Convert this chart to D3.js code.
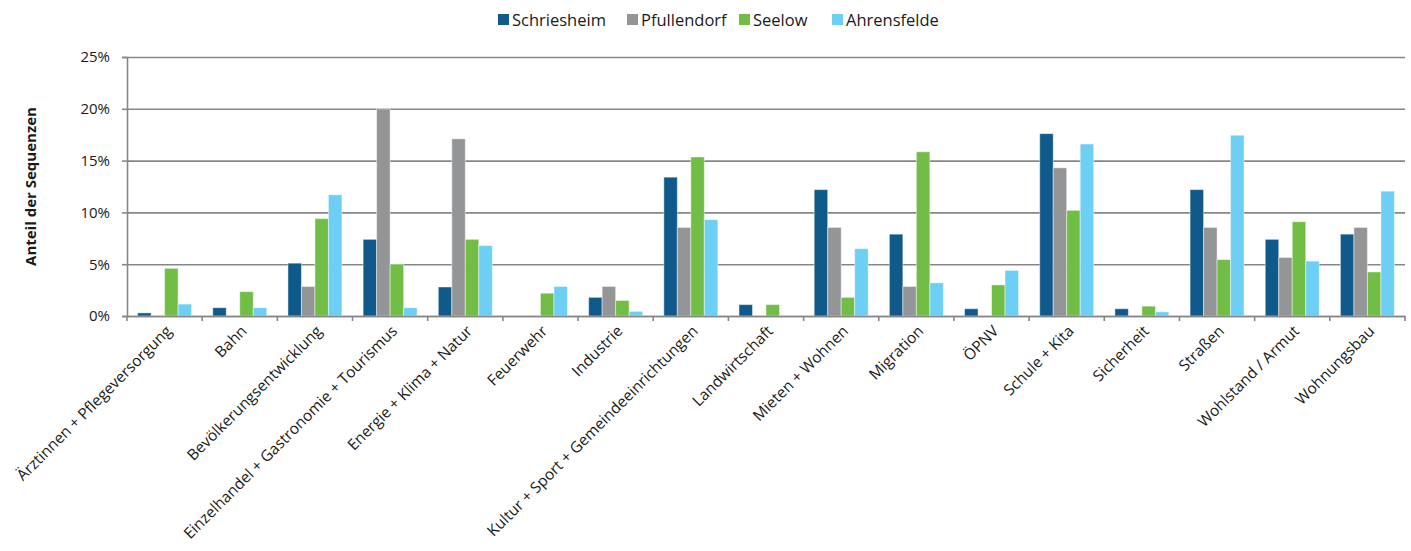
<!DOCTYPE html>
<html>
<head>
<meta charset="utf-8">
<script src="https://cdn.jsdelivr.net/npm/d3@7"></script>
<style>
  body { margin: 0; background: #fff; }
  svg { font-family: "Open Sans", Lato, sans-serif; }
</style>
</head>
<body>
<script>
// Werte in Prozent
const categories = [
  'Ärztinnen + Pflegeversorgung', 'Bahn', 'Bevölkerungsentwicklung',
  'Einzelhandel + Gastronomie + Tourismus', 'Energie + Klima + Natur',
  'Feuerwehr', 'Industrie', 'Kultur + Sport + Gemeindeeinrichtungen',
  'Landwirtschaft', 'Mieten + Wohnen', 'Migration', 'ÖPNV', 'Schule + Kita',
  'Sicherheit', 'Straßen', 'Wohlstand / Armut', 'Wohnungsbau'
];
const seriesNames = ['Schriesheim', 'Pfullendorf', 'Seelow', 'Ahrensfelde'];
const schriesheim = [0.3, 0.8, 5.1, 7.4, 2.8, 0, 1.8, 13.4, 1.1, 12.2, 7.9, 0.7, 17.6, 0.7, 12.2, 7.4, 7.9];
const pfullendorf = [0, 0, 2.85, 20.0, 17.1, 0, 2.85, 8.55, 0, 8.55, 2.85, 0, 14.3, 0, 8.55, 5.65, 8.55];
const seelow = [4.6, 2.35, 9.4, 5.0, 7.4, 2.2, 1.5, 15.35, 1.1, 1.8, 15.85, 3.0, 10.2, 0.95, 5.45, 9.1, 4.25];
const ahrensfelde = [1.15, 0.8, 11.7, 0.8, 6.8, 2.85, 0.45, 9.3, 0, 6.5, 3.2, 4.4, 16.6, 0.4, 17.45, 5.3, 12.05];
const yTicks = [0, 5, 10, 15, 20, 25];
const colors = ['#0f5a8a', '#939597', '#72bd45', '#6ecff5'];

const seriesValues = [schriesheim, pfullendorf, seelow, ahrensfelde];
const rows = categories.map((c, i) => ({
  cat: c,
  vals: seriesNames.map((s, j) => ({ key: s, value: seriesValues[j][i] }))
}));

const width = 1411, height = 551;
const plotLeft = 127, plotRight = 1405, plotTop = 57, plotBottom = 316;

const svg = d3.select('body').append('svg')
  .attr('width', width)
  .attr('height', height);

const x0 = d3.scaleBand()
  .domain(categories)
  .range([plotLeft, plotRight])
  .paddingInner(0.282)
  .paddingOuter(0.141);
const x1 = d3.scaleBand()
  .domain(seriesNames)
  .range([0, x0.bandwidth()]);
const y = d3.scaleLinear().domain([0, 25]).range([plotBottom, plotTop]);
const color = d3.scaleOrdinal().domain(seriesNames).range(colors);

// gridlines
const grid = svg.append('g')
  .attr('transform', `translate(${plotLeft},0)`)
  .call(d3.axisLeft(y).tickValues(yTicks).tickSize(-(plotRight - plotLeft)).tickFormat(''));
grid.select('.domain').remove();
grid.selectAll('line').attr('stroke', '#878787').attr('stroke-width', 1.6);

// y axis
const yAxis = svg.append('g')
  .attr('transform', `translate(${plotLeft},0)`)
  .call(d3.axisLeft(y).tickValues(yTicks).tickSize(5).tickPadding(12).tickFormat(d => d + '%'));
yAxis.select('.domain').attr('stroke', '#878787').attr('stroke-width', 1.6);
yAxis.selectAll('line').attr('stroke', '#878787').attr('stroke-width', 1.6);
yAxis.selectAll('text').attr('font-size', 15).attr('fill', '#1a1a1a')
  .style('font-family', '"Open Sans", sans-serif');

// bars
const groups = svg.append('g').selectAll('g')
  .data(rows)
  .join('g')
  .attr('transform', d => `translate(${x0(d.cat)},0)`);
groups.selectAll('rect')
  .data(d => d.vals.filter(v => v.value > 0))
  .join('rect')
  .attr('x', d => x1(d.key))
  .attr('y', d => y(d.value))
  .attr('width', x1.bandwidth())
  .attr('height', d => y(0) - y(d.value))
  .attr('fill', d => color(d.key))
  .attr('stroke', 'rgba(255,255,255,0.45)')
  .attr('stroke-width', 1);

// x axis with labels
const xAxis = svg.append('g')
  .attr('transform', `translate(0,${plotBottom})`)
  .call(d3.axisBottom(x0).tickSize(0).tickPadding(0));
xAxis.select('.domain').attr('stroke', '#878787').attr('stroke-width', 1.6);
xAxis.selectAll('text')
  .attr('x', 0).attr('y', 0).attr('dy', null)
  .attr('text-anchor', 'end')
  .attr('transform', 'translate(8,16) rotate(-45)')
  .attr('font-size', 15.4).attr('fill', '#1a1a1a')
  .style('font-family', '"Open Sans", sans-serif');

// tick marks at category boundaries
const bounds = d3.range(categories.length + 1).map(i => plotLeft + i * x0.step());
svg.append('g').selectAll('line')
  .data(bounds)
  .join('line')
  .attr('x1', d => d).attr('x2', d => d)
  .attr('y1', plotBottom).attr('y2', plotBottom + 5)
  .attr('stroke', '#878787').attr('stroke-width', 1.6);

// y axis title
svg.append('text')
  .attr('transform', `translate(36,${(plotTop + plotBottom) / 2}) rotate(-90)`)
  .attr('text-anchor', 'middle')
  .attr('font-size', 15)
  .attr('font-weight', 'bold')
  .attr('fill', '#1a1a1a')
  .text('Anteil der Sequenzen');

// legend
const legendX = [498, 627, 739, 832];
const legend = svg.append('g').selectAll('g')
  .data(seriesNames)
  .join('g')
  .attr('transform', (d, i) => `translate(${legendX[i]},14)`);
legend.append('rect')
  .attr('width', 11).attr('height', 11)
  .attr('fill', d => color(d));
legend.append('text')
  .attr('x', 14).attr('y', 11.5)
  .attr('font-size', 16.5)
  .attr('fill', '#1a1a1a')
  .text(d => d);
</script>
</body>
</html>
